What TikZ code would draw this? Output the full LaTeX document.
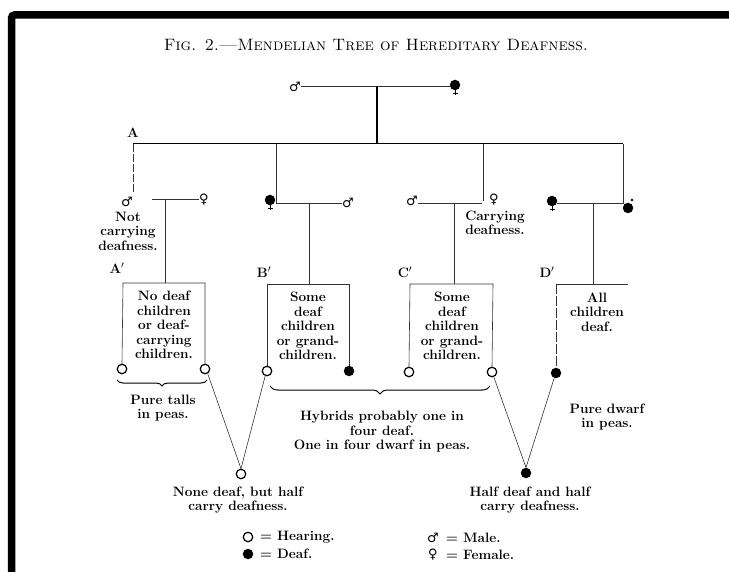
\documentclass[tikz,border=0pt]{standalone}
\usepackage{fontspec}
\newfontfamily\symf{DejaVu Sans}
\usetikzlibrary{decorations.pathreplacing}
\begin{document}
\begin{tikzpicture}[x=1pt,y=-1pt,
  lbl/.style={font=\fontsize{13.6}{14.5}\selectfont\bfseries, align=center, inner sep=0pt},
  sym/.style={font=\symf\fontsize{13}{13}\selectfont, inner sep=0pt},
  hear/.style={circle, draw, line width=1.2pt, minimum size=9.5pt, inner sep=0pt},
  deaf/.style={circle, fill, minimum size=10.5pt, inner sep=0pt},
  ln/.style={line width=0.6pt, black!80},
  brc/.style={decorate, decoration={brace, mirror, amplitude=#1}, line width=1pt},
  brc/.default=6,
  fcross/.style={line width=0.8pt},
]
\useasboundingbox (0,0) rectangle (729,572);
% frame
\draw[line width=7.5pt, rounded corners=3pt] (11.5,572) -- (11.5,15) -- (729,15);

% title
\node[font=\fontsize{16.5}{16.5}\selectfont\addfontfeature{LetterSpace=15}, inner sep=0pt] (title) at (376,45)
  {\textsc{Fig. 2.---Mendelian Tree of Hereditary Deafness.}};

% top couple
\node[sym] (pm) at (295,87) {♂};
\node[deaf] (pf) at (455,85) {};
\draw[fcross] (pf.south) -- ++(0,5) (pf.south) ++(-2.5,2.5) -- ++(5,0);
\coordinate (top) at (377,86);
\coordinate (aline) at (377,144);
\draw[ln] (pm.east |- top) -- (pf.west |- top);
\draw[line width=1.4pt] (top) -- (aline);

% line A
\node[lbl] (A) at (133,133) {A};
\coordinate (aL) at (133,144);
\coordinate (aR) at (623,144);
\draw[line width=1pt] (aL) -- (aR);

% pair A
\node[sym] (am) at (127,202) {♂};
\node[sym] (af) at (204,200) {♀};
\coordinate (aj) at (165,199);
\draw[ln, dashed, dash pattern=on 8pt off 2pt] (aL) -- (133,192);
\draw[ln] (152,199) -- (af.west |- aj);
\node[lbl] (anot) at (128,231) {Not\\carrying\\deafness.};
\node[lbl] (Ap) at (117,268) {A$'$};

% pair B
\node[deaf] (bf) at (270,200) {};
\draw[fcross] (bf.south) -- ++(0,5) (bf.south) ++(-2.5,2.5) -- ++(5,0);
\node[sym] (bm) at (348,203) {♂};
\coordinate (bj) at (309,203);
\draw[ln] (276,144) -- (276,203) -- (bm.west |- bj);
\node[lbl] (Bp) at (264,272) {B$'$};

% pair C
\node[sym] (cm) at (412,201) {♂};
\node[sym] (cf) at (494,200) {♀};
\coordinate (cj) at (454,203);
\draw[ln] (483,144) -- (483,201);
\draw[ln] (cm.east |- cj) -- (482,203);
\node[lbl, align=left] (ccar) at (495,223) {Carrying\\deafness.};
\node[lbl] (Cp) at (405,272) {C$'$};

% pair D
\node[deaf] (df) at (552,201) {};
\draw[fcross] (df.south) -- ++(0,5) (df.south) ++(-2.5,2.5) -- ++(5,0);
\node[deaf] (dm) at (628,208) {};
\fill (632,200) circle (1.3pt);
\coordinate (dj) at (593,203);
\draw[ln] (df.east |- dj) -- (623,203) -- (aR);
\node[lbl] (Dp) at (547,272) {D$'$};

% box A'
\node[hear] (a1) at (122,369) {};
\node[hear] (a2) at (205,369) {};
\draw[ln] (aj) -- (165,283);
\draw[ln] (a1.north) -- (123,283) -- (205,283) -- (a2.north);
\node[lbl] (atxt) at (164,325) {No deaf\\children\\or deaf-\\carrying\\children.};

% box B'
\node[hear] (b1) at (267,371) {};
\node[deaf] (b2) at (349,371) {};
\draw[ln] (bj) -- (309,284);
\draw[ln] (b1.north) -- (267,284) -- (349,284) -- (b2.north);
\node[lbl] (btxt) at (308,326) {Some\\deaf\\children\\or grand-\\children.};

% box C'
\node[hear] (c1) at (409,372) {};
\node[hear] (c2) at (492,372) {};
\draw[ln] (cj) -- (454,284);
\draw[ln] (c1.north) -- (410,284) -- (493,284) -- (c2.north);
\node[lbl] (ctxt) at (452,326) {Some\\deaf\\children\\or grand-\\children.};

% box D'
\node[deaf] (d1) at (556,373) {};
\draw[ln] (dj) -- (593,284);
\draw[ln] (628,284) -- (556,284);
\draw[ln, dashed, dash pattern=on 10pt off 2pt] (556,284) -- (d1.north);
\node[lbl] (dtxt) at (597,312) {All\\children\\deaf.};

% braces
\draw[brc] (117,380) -- (207,380);
\node[lbl] (ptall) at (163,408) {Pure talls\\in peas.};
\draw[brc=8] (270,386) -- (490,386);
\node[lbl] (hyb) at (382,432) {Hybrids probably one in\\four deaf.\\One in four dwarf in peas.};
\node[lbl] (pdw) at (607,417) {Pure dwarf\\in peas.};

% grandchildren
\node[hear] (n1) at (241,474) {};
\draw[ln] (a2.-60) -- (n1.north);
\draw[ln] (b1.-110) -- (n1.north);
\node[lbl] (n1t) at (238,500) {None deaf, but half\\carry deafness.};

\node[deaf] (n2) at (526,473) {};
\draw[ln] (c2.-70) -- (n2.north);
\draw[ln] (d1.-110) -- (n2.north);
\node[lbl] (n2t) at (530,500) {Half deaf and half\\carry deafness.};

% legend
\node[hear] (lh) at (248,537) {};
\node[lbl, anchor=west] (lht) at (260,537) {= Hearing.};
\node[deaf] (ld) at (248,554) {};
\node[lbl, anchor=west] (ldt) at (260,554) {= Deaf.};
\node[sym] (lm) at (433,538) {♂};
\node[lbl, anchor=west] (lmt) at (446,538) {= Male.};
\node[sym] (lf) at (433,555) {♀};
\node[lbl, anchor=west] (lft) at (446,555) {= Female.};
\end{tikzpicture}
\end{document}
